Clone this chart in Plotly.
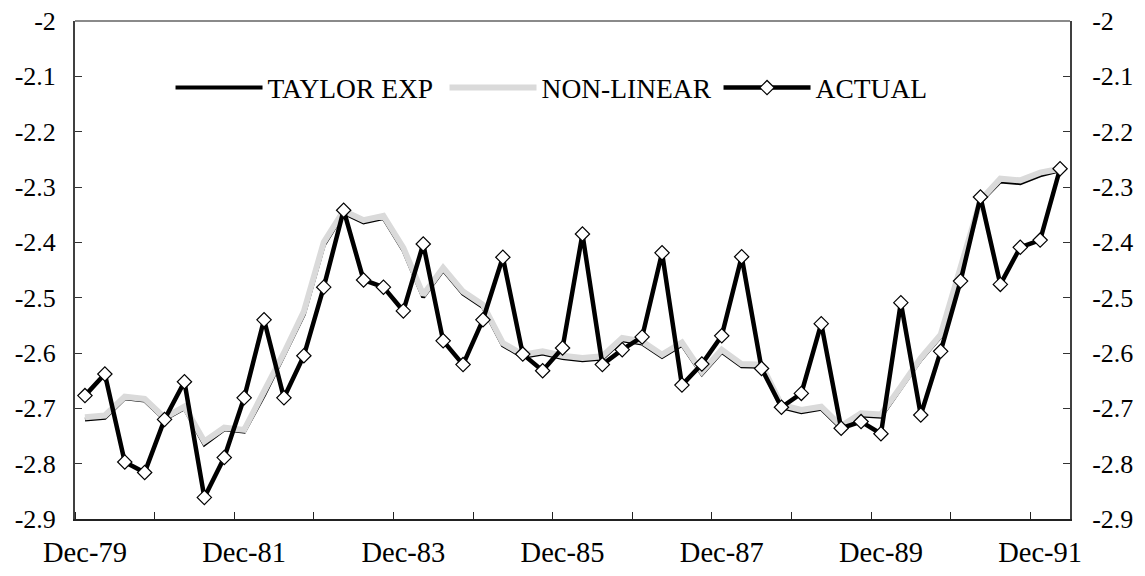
import plotly.graph_objects as go

# Quarterly observations, Dec-79 .. Mar-92 (50 quarters)
quarters = [f"{m}-{y:02d}" for y in range(79, 93) for m in ("Mar", "Jun", "Sep", "Dec")][3:53]

actual = [-2.677, -2.638, -2.797, -2.816, -2.720, -2.652, -2.861, -2.789, -2.681, -2.540,
          -2.681, -2.605, -2.481, -2.342, -2.468, -2.481, -2.524, -2.403, -2.578, -2.621,
          -2.540, -2.427, -2.602, -2.632, -2.591, -2.385, -2.621, -2.594, -2.571, -2.419,
          -2.658, -2.620, -2.569, -2.426, -2.628, -2.698, -2.673, -2.547, -2.736, -2.724,
          -2.746, -2.509, -2.712, -2.597, -2.470, -2.318, -2.476, -2.409, -2.396, -2.267]

non_linear = [-2.716, -2.713, -2.679, -2.683, -2.717, -2.697, -2.760, -2.735, -2.739, -2.672,
              -2.600, -2.525, -2.400, -2.343, -2.360, -2.352, -2.410, -2.495, -2.446, -2.489,
              -2.513, -2.582, -2.603, -2.597, -2.605, -2.609, -2.606, -2.573, -2.579, -2.603,
              -2.581, -2.634, -2.594, -2.620, -2.621, -2.694, -2.703, -2.697, -2.732, -2.709,
              -2.711, -2.661, -2.609, -2.567, -2.447, -2.324, -2.285, -2.288, -2.274, -2.267]

taylor_exp = [-2.720, -2.717, -2.682, -2.686, -2.720, -2.700, -2.765, -2.738, -2.742, -2.676,
              -2.604, -2.530, -2.405, -2.347, -2.364, -2.356, -2.414, -2.499, -2.450, -2.493,
              -2.517, -2.586, -2.607, -2.601, -2.609, -2.613, -2.610, -2.577, -2.583, -2.607,
              -2.585, -2.638, -2.598, -2.624, -2.625, -2.698, -2.707, -2.701, -2.736, -2.713,
              -2.715, -2.664, -2.612, -2.570, -2.450, -2.327, -2.290, -2.293, -2.279, -2.270]

x_tick_labels = ["Dec-79", "Dec-81", "Dec-83", "Dec-85", "Dec-87", "Dec-89", "Dec-91"]
y_tick_vals = [-2.0, -2.1, -2.2, -2.3, -2.4, -2.5, -2.6, -2.7, -2.8, -2.9]
y_tick_text = ["-2", "-2.1", "-2.2", "-2.3", "-2.4", "-2.5", "-2.6", "-2.7", "-2.8", "-2.9"]

idx = list(range(len(quarters)))
x_tick_vals = [quarters.index(lbl) for lbl in x_tick_labels]

FONT = "Liberation Serif, Times New Roman, serif"

fig = go.Figure()
fig.add_trace(go.Scatter(x=idx, y=taylor_exp, name="TAYLOR EXP", mode="lines",
                         line=dict(color="black", width=4), customdata=quarters))
fig.add_trace(go.Scatter(x=idx, y=non_linear, name="NON-LINEAR", mode="lines",
                         line=dict(color="#dadada", width=6), customdata=quarters))
fig.add_trace(go.Scatter(x=idx, y=actual, name="ACTUAL", mode="lines+markers",
                         line=dict(color="black", width=4.5),
                         marker=dict(symbol="diamond", size=11, color="white",
                                     line=dict(color="black", width=1.2)),
                         customdata=quarters))
# invisible trace to anchor the right-hand axis
fig.add_trace(go.Scatter(x=idx, y=actual, yaxis="y2", mode="lines",
                         line=dict(width=0), opacity=0, showlegend=False, hoverinfo="skip"))

fig.update_layout(
    width=1145, height=576,
    margin=dict(l=67, r=83, t=13, b=65, autoexpand=False),
    paper_bgcolor="white", plot_bgcolor="white",
    font=dict(family=FONT, size=26, color="black"),
    showlegend=True,
    legend=dict(orientation="h", x=0.096, xanchor="left", y=0.866, yanchor="middle",
                font=dict(family=FONT, size=27.5, color="black"),
                bgcolor="rgba(0,0,0,0)", itemwidth=87, tracegroupgap=0,
                entrywidth=172, entrywidthmode="pixels"),
    xaxis=dict(range=[-0.5, len(idx) - 0.5], tickmode="array", tickvals=x_tick_vals,
               ticktext=x_tick_labels, ticks="", showgrid=False, zeroline=False,
               showline=True, linecolor="#222222", linewidth=1.5, automargin=False,
               ticklabelstandoff=7, tickfont=dict(size=28.5),
               minor=dict(tickmode="linear", tick0=3.5, dtick=4, ticks="inside",
                          ticklen=7, tickcolor="#222222", tickwidth=1, showgrid=False)),
    yaxis=dict(range=[-2.9, -2.0], tickmode="array", tickvals=y_tick_vals, ticktext=y_tick_text,
               ticks="inside", ticklen=7, tickcolor="#333333", tickwidth=1, automargin=False,
               showgrid=False, zeroline=False, showline=True, linecolor="#404040", linewidth=2,
               ticklabelstandoff=12, ticklabeloverflow="allow", tickfont=dict(size=26)),
    yaxis2=dict(range=[-2.9, -2.0], tickmode="array", tickvals=y_tick_vals, ticktext=y_tick_text,
                overlaying="y", side="right", ticks="inside", ticklen=7, tickcolor="#333333",
                tickwidth=1, showgrid=False, zeroline=False, showline=True, automargin=False,
                linecolor="#404040", linewidth=2, ticklabelstandoff=15,
                ticklabeloverflow="allow", tickfont=dict(size=26)),
    shapes=[dict(type="line", xref="paper", yref="paper", x0=0, x1=1, y0=1, y1=1,
                 line=dict(color="#8a8a8a", width=2))],
)

fig.write_html("out.html")
